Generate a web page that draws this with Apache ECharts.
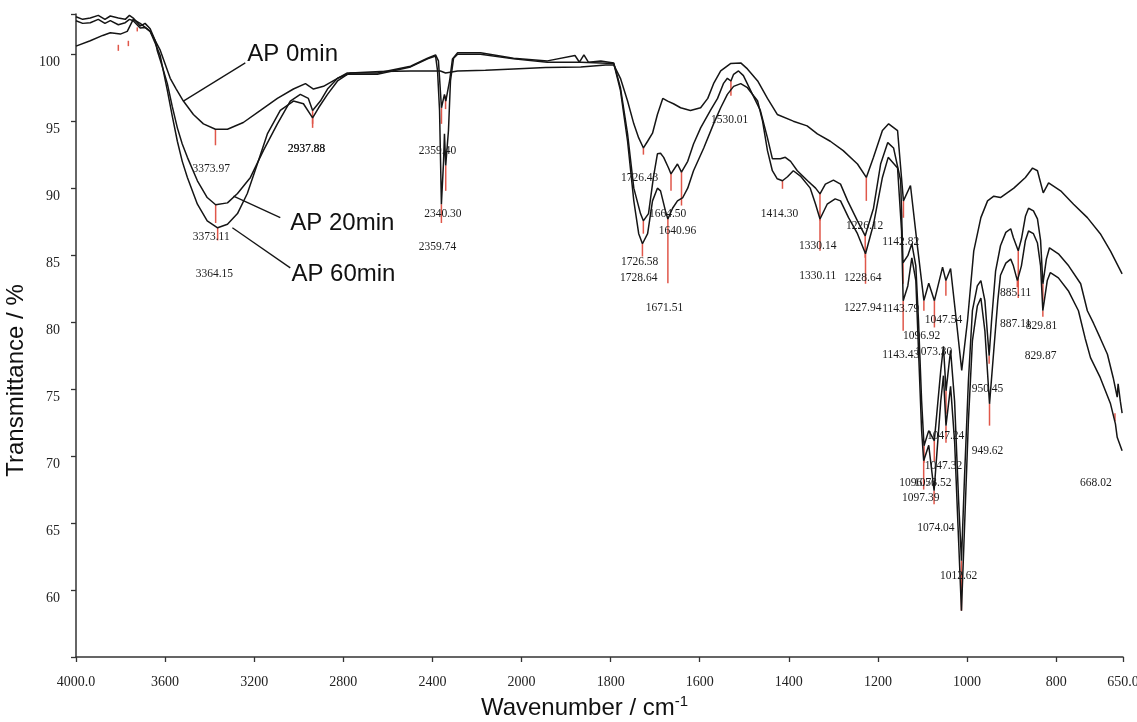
<!DOCTYPE html>
<html>
<head>
<meta charset="utf-8">
<title>FTIR spectra of AP</title>
<script src="https://cdn.jsdelivr.net/npm/echarts@6/dist/echarts.min.js"></script>
<style>
  html, body { margin: 0; padding: 0; background: #fff; }
  #chart { width: 1137px; height: 722px; }
</style>
</head>
<body>
<div id="chart"></div>
<script>
// Spectra: [wavenumber (cm-1), transmittance (%)]
const ap0 = [[4000,100.6],[3936,101.0],[3880,101.4],[3846,101.6],[3801,101.5],[3770,101.7],[3743,102.6],[3712,102.3],[3667,101.7],[3644,101.0],[3622,100.3],[3577,98.2],[3550,97.4],[3518,96.5],[3473,95.5],[3428,94.8],[3374,94.4],[3320,94.4],[3249,94.9],[3172,95.8],[3096,96.7],[3024,97.4],[2970,97.8],[2934,97.4],[2889,97.6],[2826,98.2],[2768,98.6],[2633,98.7],[2498,98.75],[2364,98.75],[2341,98.6],[2287,98.75],[2162,98.8],[2036,98.9],[1946,99.0],[1867,99.05],[1811,99.2],[1793,99.2],[1778,98.2],[1762,96.5],[1748,94.8],[1737,93.75],[1726.4,93.0],[1717,93.5],[1706,94.1],[1695,95.5],[1683,96.7],[1672,96.5],[1659,96.3],[1643,96.0],[1621,95.8],[1598,96.0],[1582,96.7],[1569,97.8],[1553,98.75],[1531,99.3],[1508,99.35],[1493,98.9],[1470,98.0],[1448,96.7],[1426,95.5],[1390,95.0],[1359,94.65],[1336,94.05],[1307,93.5],[1278,92.8],[1246,91.8],[1226.1,90.8],[1210,92.3],[1190,94.3],[1176,94.8],[1156,94.3],[1142.8,89.05],[1127,90.2],[1113,86.1],[1096.9,81.6],[1086,82.9],[1073.3,81.6],[1055,84.1],[1047.5,83.1],[1037,84.0],[1024,80.1],[1012,76.4],[999,80.1],[985,85.3],[969,87.8],[954,89.05],[940,89.4],[925,89.3],[895,90.0],[869,90.8],[853,91.5],[842,91.3],[829,89.65],[817,90.4],[790,89.8],[761,88.8],[730,87.8],[701,86.6],[678,85.3],[652,83.6]];

const ap20 = [[4000,102.8],[3970,102.6],[3936,102.7],[3900,102.9],[3870,102.6],[3846,102.85],[3810,102.7],[3779,102.6],[3760,102.9],[3743,102.7],[3712,102.1],[3690,102.3],[3667,101.9],[3644,101.0],[3635,100.25],[3613,99.1],[3590,97.8],[3568,96.1],[3545,94.5],[3523,93.3],[3500,92.3],[3455,90.55],[3411,89.3],[3373.1,88.76],[3320,88.9],[3275,89.6],[3217,90.8],[3159,92.8],[3096,94.8],[3038,96.5],[2993,97.0],[2957,96.7],[2937.9,95.8],[2903,96.5],[2871,97.4],[2826,98.2],[2782,98.6],[2647,98.6],[2498,99.1],[2422,99.7],[2386,99.95],[2373,99.5],[2359.4,96.0],[2346,97.0],[2340,96.5],[2323,98.0],[2310,99.65],[2287,100.1],[2184,100.1],[2036,99.7],[1942,99.5],[1880,99.9],[1870,99.4],[1860,99.95],[1850,99.4],[1822,99.5],[1793,99.35],[1778,97.5],[1762,94.05],[1748,90.0],[1733,88.1],[1726.6,87.56],[1715,88.1],[1704,90.8],[1695,92.56],[1688,92.6],[1681,92.3],[1670,91.5],[1664.5,91.06],[1650,91.8],[1641,91.2],[1627,92.0],[1614,93.3],[1598,94.5],[1576,95.8],[1560,96.7],[1547,97.8],[1538,98.2],[1530,98.0],[1524,98.5],[1513,98.75],[1502,98.4],[1486,97.3],[1464,95.8],[1448,93.75],[1437,92.2],[1419,92.2],[1408,92.3],[1396,92.0],[1381,91.3],[1358,90.55],[1340,90.0],[1330.1,89.57],[1318,90.3],[1300,90.6],[1284,90.3],[1268,89.05],[1246,87.56],[1228.6,86.44],[1210,88.5],[1194,91.8],[1178,93.4],[1165,93.0],[1149,90.55],[1143.8,84.43],[1133,84.96],[1124,85.85],[1115,84.2],[1109,80.1],[1102,74.1],[1096.6,70.77],[1086,71.9],[1073.5,71.14],[1059,76.4],[1053,78.2],[1047.2,74.87],[1037,77.9],[1028,74.1],[1019,66.7],[1012.6,62.19],[1006,68.2],[997,75.6],[988,80.85],[977,82.7],[969,83.1],[960,81.6],[950.45,77.49],[945,80.1],[936,83.8],[925,85.7],[913,86.7],[902,86.97],[896,86.3],[885.1,85.33],[878,86.2],[869,87.9],[862,88.5],[851,88.3],[842,87.7],[835,86.1],[829.8,82.86],[822,84.7],[815,85.55],[795,85.1],[772,84.2],[745,82.86],[730,80.85],[716,79.9],[701,78.8],[685,77.6],[672,75.85],[663,74.4],[661,75.4],[656,74.1],[652,73.2]];

const ap60 = [[4000,102.5],[3970,102.3],[3936,102.35],[3900,102.6],[3870,102.3],[3846,102.5],[3810,102.2],[3779,102.35],[3760,102.6],[3743,102.5],[3712,101.96],[3690,102.0],[3667,101.7],[3644,100.8],[3622,99.9],[3590,97.3],[3568,95.4],[3545,93.5],[3523,92.0],[3500,90.8],[3455,88.8],[3411,87.56],[3364.2,87.04],[3320,87.3],[3275,88.1],[3231,89.6],[3186,91.8],[3141,94.05],[3083,95.8],[3024,96.5],[2979,96.3],[2937.9,95.24],[2911,96.0],[2871,97.0],[2826,98.0],[2782,98.5],[2647,98.5],[2498,99.05],[2422,99.65],[2386,99.87],[2377,98.75],[2368,95.8],[2359.7,88.8],[2350,92.0],[2346,94.05],[2340.3,91.7],[2328,94.3],[2319,98.0],[2305,99.7],[2287,100.0],[2184,100.0],[2036,99.65],[1942,99.4],[1867,99.4],[1793,99.3],[1778,97.3],[1762,93.5],[1748,89.05],[1737,86.6],[1728.6,85.85],[1717,86.6],[1706,89.05],[1695,90.0],[1688,89.8],[1677,88.3],[1671.5,87.7],[1661,88.5],[1650,89.05],[1638,89.3],[1627,90.0],[1614,91.3],[1591,93.0],[1569,94.8],[1553,96.0],[1538,97.0],[1524,97.6],[1508,97.8],[1493,97.5],[1470,96.5],[1459,95.0],[1448,92.8],[1437,91.3],[1426,90.7],[1414.3,90.55],[1403,90.85],[1390,91.3],[1374,90.9],[1352,90.0],[1340,88.8],[1330.1,87.7],[1314,88.8],[1296,89.2],[1284,89.05],[1266,87.8],[1246,86.6],[1227.9,85.1],[1210,87.3],[1190,90.8],[1177,92.3],[1156,91.5],[1147,86.8],[1143.4,81.6],[1133,82.7],[1124,84.8],[1115,83.1],[1109,77.9],[1102,71.9],[1097.4,69.65],[1086,70.8],[1074,67.41],[1059,74.1],[1053,76.0],[1047.3,72.27],[1037,75.2],[1028,71.1],[1019,63.7],[1012.6,58.46],[1006,64.4],[997,72.6],[988,78.6],[977,81.2],[969,81.8],[960,79.35],[949.6,73.9],[940,77.9],[931,81.6],[925,83.5],[913,84.4],[902,84.7],[896,84.2],[887.1,83.1],[878,84.2],[869,86.1],[862,86.8],[851,86.6],[842,85.9],[835,84.2],[829.9,80.85],[820,83.1],[813,83.7],[795,83.3],[772,82.3],[750,80.85],[735,78.8],[723,77.35],[701,75.85],[678,73.9],[667,72.4],[663,71.4],[652,70.4]];

// Picked peaks: [wavenumber, marker top (%), marker bottom (%), label wavenumber, label transmittance]
const peaks = [
  [3373.97, 94.4, 93.2, 3393, 91.44],
  [3373.11, 88.76, 87.4, 3393, 86.37],
  [3364.15, 87.04, 86.1, 3379, 83.6],
  [2937.88, 95.8, 94.8, 2966, 92.93],
  [2937.88, 95.24, 94.5, 2965, 92.93],
  [2359.40, 96.0, 94.8, 2377, 92.78],
  [2340.30, 91.7, 89.8, 2353, 88.06],
  [2359.74, 88.8, 87.4, 2377, 85.6],
  [1726.43, 93.0, 92.5, 1735, 90.77],
  [1664.50, 91.06, 89.8, 1672, 88.06],
  [1640.96, 91.2, 88.7, 1650, 86.8],
  [1726.58, 87.56, 86.6, 1735, 84.5],
  [1728.64, 85.85, 84.9, 1737, 83.3],
  [1671.51, 87.7, 82.9, 1679, 81.07],
  [1530.01, 98.0, 96.9, 1533, 95.09],
  [1414.30, 90.55, 89.95, 1421, 88.06],
  [1330.14, 89.57, 87.56, 1335, 85.7],
  [1330.11, 87.7, 85.33, 1335, 83.46],
  [1226.12, 90.8, 89.05, 1230, 87.19],
  [1228.64, 86.44, 84.8, 1234, 83.3],
  [1227.94, 85.1, 82.86, 1234, 81.07],
  [1142.82, 89.05, 87.79, 1149, 86.0],
  [1143.79, 84.43, 82.86, 1149, 81.0],
  [1143.43, 81.6, 79.35, 1149, 77.56],
  [1096.92, 81.6, 80.85, 1102, 78.98],
  [1073.30, 81.6, 79.6, 1075, 77.8],
  [1047.54, 83.1, 81.97, 1053, 80.15],
  [1047.24, 74.87, 73.16, 1048, 71.5],
  [1047.32, 72.27, 71.0, 1053, 69.26],
  [1096.56, 70.77, 69.5, 1110, 68.0],
  [1073.52, 71.14, 69.6, 1077, 68.0],
  [1097.39, 69.65, 67.5, 1104, 66.9],
  [1074.04, 67.41, 66.4, 1070, 64.66],
  [1012.62, 62.19, 58.46, 1019, 61.07],
  [950.45, 77.49, 76.9, 954, 75.0],
  [949.62, 73.9, 72.27, 954, 70.4],
  [885.11, 85.33, 81.8, 891, 82.17],
  [887.11, 83.1, 82.6, 891, 79.86],
  [829.81, 82.86, 81.6, 833, 79.7],
  [829.87, 80.85, 80.4, 835, 77.5],
  [668.02, 73.2, 72.6, 711, 68.0]
];

// Unlabelled peak ticks: [wavenumber, top, bottom]
const minorTicks = [[3810, 100.7, 100.25], [3765, 101.0, 100.6], [3725, 102.0, 101.7], [2341, 96.9, 95.9]];

// Curve names with leader lines: [text, text wavenumber, text %, leader from [wn, %], leader to [wn, %]]
const curveNames = [
  ['AP 0min', 3231, 100.0, [3240, 99.35], [3518, 96.5]],
  ['AP 20min', 3038, 87.4, [3083, 87.8], [3293, 89.4]],
  ['AP 60min', 3033, 83.6, [3038, 84.05], [3298, 87.04]]
];

const xTickLabels = [4000, 3600, 3200, 2800, 2400, 2000, 1800, 1600, 1400, 1200, 1000, 800, 650];
const yTickLabels = [60, 65, 70, 75, 80, 85, 90, 95, 100];

// The wavenumber axis is compressed 2:1 above 2000 cm-1
const toU = wn => (wn <= 2000 ? wn : 2000 + (wn - 2000) / 2);
const fromU = u => (u <= 2000 ? u : 2000 + (u - 2000) * 2);

const RED = '#e0574a';
const INK = '#151515';
const SERIF = '"Liberation Serif", "DejaVu Serif", serif';
const SANS = '"Liberation Sans", Arial, sans-serif';

const spectrum = (name, pts) => ({
  name, type: 'line', showSymbol: false, symbol: 'none', z: 3,
  lineStyle: { color: INK, width: 1.5 },
  data: pts.map(p => [toU(p[0]), p[1]])
});

const segmentItem = (params, api) => {
  const a = api.coord([api.value(0), api.value(1)]);
  const b = api.coord([api.value(2), api.value(3)]);
  return { type: 'line', shape: { x1: a[0], y1: a[1], x2: b[0], y2: b[1] }, style: api.style() };
};

const markerData = peaks.map(p => [toU(p[0]), p[1], toU(p[0]), p[2]])
  .concat(minorTicks.map(p => [toU(p[0]), p[1], toU(p[0]), p[2]]));

const chart = echarts.init(document.getElementById('chart'), null, { renderer: 'canvas' });
chart.setOption({
  animation: false,
  backgroundColor: '#ffffff',
  grid: { left: 76, right: 14, top: 14, bottom: 65, containLabel: false, outerBoundsMode: 'none' },
  xAxis: {
    type: 'value', min: toU(650), max: toU(4000), inverse: true,
    axisLine: { lineStyle: { color: '#333', width: 1.5 } },
    axisTick: { customValues: xTickLabels.map(toU), length: 5, lineStyle: { color: '#333', width: 1.3 } },
    axisLabel: {
      customValues: xTickLabels.map(toU), margin: 18,
      fontFamily: SERIF, fontSize: 14, color: '#222',
      formatter: v => { const w = Math.round(fromU(v)); return (w === 4000 || w === 650) ? w.toFixed(1) : String(w); }
    },
    splitLine: { show: false },
    name: 'Wavenumber / cm{sup|-1}', nameLocation: 'middle', nameGap: 37,
    nameTextStyle: {
      fontFamily: SANS, fontSize: 24, color: '#111', padding: [0, 30, 0, 0],
      rich: { sup: { fontFamily: SANS, fontSize: 15, color: '#111', padding: [0, 0, 14, 0] } }
    }
  },
  yAxis: {
    type: 'value', min: 55, max: 103,
    axisLine: { show: true, lineStyle: { color: '#333', width: 1.5 } },
    axisTick: { show: true, customValues: [55].concat(yTickLabels, [103]), length: 5, lineStyle: { color: '#333', width: 1.3 } },
    axisLabel: { customValues: yTickLabels, margin: 16, verticalAlign: 'top', lineHeight: 16, fontFamily: SERIF, fontSize: 14, color: '#222' },
    splitLine: { show: false },
    name: 'Transmittance / %', nameLocation: 'middle', nameGap: 36, nameRotate: 90,
    nameTextStyle: { fontFamily: SANS, fontSize: 24, color: '#111', padding: [0, 90, 0, 0] }
  },
  series: [
    spectrum('AP 0min', ap0),
    spectrum('AP 20min', ap20),
    spectrum('AP 60min', ap60),
    {
      name: 'peak ticks', type: 'custom', z: 2, silent: true,
      renderItem: (params, api) => {
        const s = segmentItem(params, api);
        s.style = { stroke: RED, lineWidth: 1.5 };
        return s;
      },
      encode: { x: [0, 2], y: [1, 3] },
      data: markerData
    },
    {
      name: 'peak labels', type: 'custom', z: 4, silent: true,
      renderItem: (params, api) => {
        const p = api.coord([api.value(0), api.value(1)]);
        return { type: 'text', x: p[0], y: p[1], style: {
          text: peaks[params.dataIndex][0].toFixed(2), fill: '#1a1a1a',
          font: '11.5px ' + SERIF, textAlign: 'center', textVerticalAlign: 'middle' } };
      },
      encode: { x: 0, y: 1 },
      data: peaks.map(p => [toU(p[3]), p[4]])
    },
    {
      name: 'leaders', type: 'custom', z: 4, silent: true,
      renderItem: (params, api) => {
        const s = segmentItem(params, api);
        s.style = { stroke: INK, lineWidth: 1.3 };
        return s;
      },
      encode: { x: [0, 2], y: [1, 3] },
      data: curveNames.map(c => [toU(c[3][0]), c[3][1], toU(c[4][0]), c[4][1]])
    },
    {
      name: 'curve names', type: 'custom', z: 4, silent: true,
      renderItem: (params, api) => {
        const p = api.coord([api.value(0), api.value(1)]);
        return { type: 'text', x: p[0], y: p[1], style: {
          text: curveNames[params.dataIndex][0], fill: '#111',
          font: '24px ' + SANS, textAlign: 'left', textVerticalAlign: 'middle' } };
      },
      encode: { x: 0, y: 1 },
      data: curveNames.map(c => [toU(c[1]), c[2]])
    }
  ]
});
</script>
</body>
</html>
